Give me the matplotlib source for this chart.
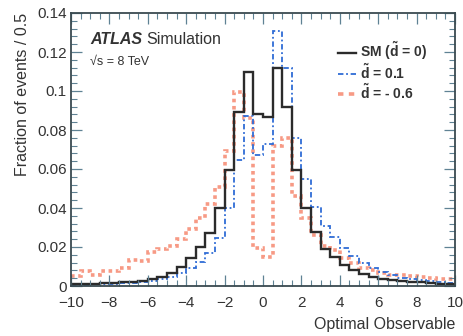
import numpy as np
import matplotlib
matplotlib.use("Agg")
import matplotlib.pyplot as plt
from matplotlib.ticker import MultipleLocator, FixedLocator
from matplotlib.lines import Line2D

# Bin edges: -10 .. 10 in steps of 0.5
bin_lo, bin_hi, bin_w = -10.0, 10.0, 0.5
edges = np.arange(bin_lo, bin_hi + bin_w / 2, bin_w)

sm = [0.0008, 0.0010, 0.0012, 0.0014, 0.0016, 0.0019, 0.0023, 0.0028, 0.0035, 0.0048,
      0.0065, 0.0095, 0.0145, 0.0200, 0.0270, 0.0400, 0.0595, 0.0890, 0.1100, 0.0880,
      0.0865, 0.1120, 0.0920, 0.0595, 0.0400, 0.0277, 0.0190, 0.0149, 0.0108, 0.0082,
      0.0062, 0.0046, 0.0035, 0.0030, 0.0025, 0.0022, 0.0018, 0.0015, 0.0012, 0.0010]

d_p01 = [0.0006, 0.0007, 0.0008, 0.0009, 0.0011, 0.0014, 0.0017, 0.0022, 0.0028, 0.0036,
         0.0048, 0.0065, 0.0090, 0.0125, 0.0170, 0.0246, 0.0400, 0.0646, 0.0870, 0.0670,
         0.0730, 0.1310, 0.1120, 0.0760, 0.0550, 0.0405, 0.0310, 0.0250, 0.0195, 0.0152,
         0.0120, 0.0092, 0.0070, 0.0054, 0.0042, 0.0035, 0.0029, 0.0024, 0.0020, 0.0017]

d_m06 = [0.0050, 0.0078, 0.0056, 0.0075, 0.0078, 0.0090, 0.0135, 0.0130, 0.0175, 0.0190,
         0.0205, 0.0240, 0.0290, 0.0350, 0.0420, 0.0510, 0.0690, 0.0995, 0.0860, 0.0195,
         0.0150, 0.0720, 0.0760, 0.0460, 0.0350, 0.0260, 0.0205, 0.0185, 0.0144, 0.0118,
         0.0092, 0.0080, 0.0065, 0.0058, 0.0055, 0.0050, 0.0045, 0.0040, 0.0038, 0.0035]

labels = [r"SM ($\mathbf{\tilde{d}}$ = 0)", r"$\mathbf{\tilde{d}}$ = 0.1", r"$\mathbf{\tilde{d}}$ = - 0.6"]
xticks = [-10, -8, -6, -4, -2, 0, 2, 4, 6, 8, 10]
yticks = [0, 0.02, 0.04, 0.06, 0.08, 0.1, 0.12, 0.14]
yticklabels = ["0", "0.02", "0.04", "0.06", "0.08", "0.1", "0.12", "0.14"]

plt.rcParams['font.family'] = ['Liberation Sans', 'DejaVu Sans']
plt.rcParams['mathtext.fontset'] = 'custom'
plt.rcParams['mathtext.rm'] = 'Liberation Sans'
plt.rcParams['mathtext.bf'] = 'Liberation Sans:bold'

fig = plt.figure(figsize=(4.64, 3.36), dpi=100)
ax = fig.add_axes([71/464, 1 - 286/336, 384/464, 273/336])

txt_col = "#333333"
red_c = "#f79a85"
blue_c = "#2f6cd6"
black_c = "#2b2b2b"

ax.stairs(d_m06, edges, color=red_c, lw=2.6, linestyle=(0, (1.0, 1.0)), baseline=None)
ax.stairs(d_p01, edges, color=blue_c, lw=1.3, linestyle=(0, (3, 1.5, 1, 1.5)), baseline=None)
ax.stairs(sm, edges, color=black_c, lw=1.7, baseline=None)

ax.set_xlim(bin_lo, bin_hi)
ax.set_ylim(0, 0.14)
ax.xaxis.set_major_locator(FixedLocator(xticks))
ax.xaxis.set_minor_locator(MultipleLocator(0.5))
ax.yaxis.set_major_locator(FixedLocator(yticks))
ax.set_yticklabels(yticklabels)
ax.yaxis.set_minor_locator(MultipleLocator(0.004))

tick_col = "#5f8294"
ax.tick_params(which='both', direction='in', top=True, right=True, colors=tick_col,
               labelcolor=txt_col, labelsize=11)
ax.tick_params(which='major', length=8, width=0.9)
ax.tick_params(which='minor', length=4, width=0.8)
ax.tick_params(axis='x', pad=7)
ax.tick_params(axis='y', pad=3)
for s in ax.spines.values():
    s.set_color("#3a4a50")
    s.set_linewidth(1.3)

ax.set_ylabel("Fraction of events / 0.5", fontsize=11.5, color=txt_col, loc='top', labelpad=5)
ax.set_xlabel("Optimal Observable", fontsize=11.5, color=txt_col, loc='right', labelpad=5)

ax.text(0.05, 0.885, "ATLAS", transform=ax.transAxes, fontsize=11.5, fontweight='bold',
        fontstyle='italic', color=txt_col)
ax.text(0.197, 0.885, "Simulation", transform=ax.transAxes, fontsize=11.5, color=txt_col)
ax.text(0.05, 0.81, "√s = 8 TeV", transform=ax.transAxes, fontsize=9, color=txt_col)

handles = [Line2D([], [], color=black_c, lw=1.7),
           Line2D([], [], color=blue_c, lw=1.3, linestyle=(0, (3, 1.5, 1, 1.5))),
           Line2D([], [], color=red_c, lw=2.6, linestyle=(0, (1.5, 1.5)))]
leg = ax.legend(handles, labels, loc='upper left', bbox_to_anchor=(0.695, 0.9), frameon=False,
                handlelength=1.3, handletextpad=0.3, labelspacing=0.05, borderpad=0,
                borderaxespad=0, prop={'weight': 'bold', 'size': 10})
for t in leg.get_texts():
    t.set_color(txt_col)

fig.savefig("out.png", dpi=100)
